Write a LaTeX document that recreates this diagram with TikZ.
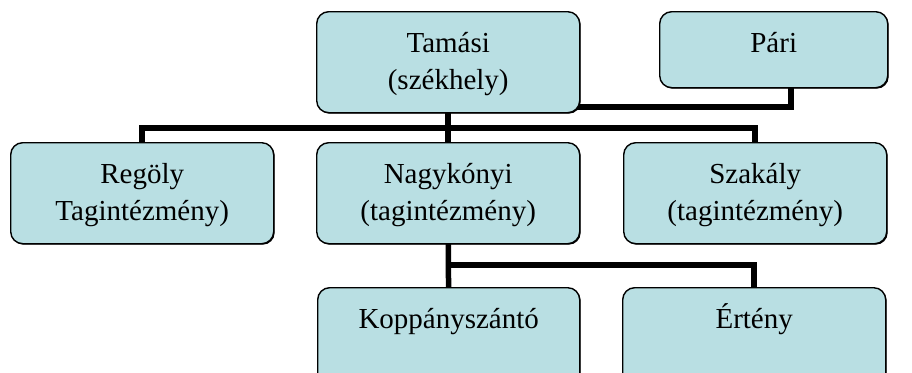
\documentclass[tikz,border=0pt]{standalone}
\usepackage{fontspec}
\setmainfont{Liberation Serif}
\usetikzlibrary{backgrounds,shadows}
\definecolor{boxfill}{RGB}{185,223,227}
\tikzset{
  orgbox/.style={draw=black, line width=1.4pt, fill=boxfill, rounded corners=12pt,
    inner sep=0pt, anchor=north west,
    drop shadow={shadow xshift=1pt, shadow yshift=-1pt, fill=black, opacity=1}},
  conn/.style={draw=black, line width=5.5pt, line join=miter}
}
\newcommand{\boxtxt}[3]{\parbox[c][#2][t]{#1}{\centering\fontsize{29}{37}\selectfont\vspace{15pt}#3}}
\begin{document}
\begin{tikzpicture}[x=1pt,y=-1pt]
\useasboundingbox (0,0) rectangle (912,372);
\clip (0,0) rectangle (912,372);
\node[orgbox] (tam) at (316,11) {\boxtxt{263pt}{101pt}{\strut Tamási\\\strut(székhely)}};
\node[orgbox] (pari) at (659,11) {\boxtxt{228pt}{76pt}{\strut Pári}};
\node[orgbox] (reg) at (10,142) {\boxtxt{263pt}{101pt}{\strut Regöly\\\strut Tagintézmény)}};
\node[orgbox] (nagy) at (316,142) {\boxtxt{263pt}{101pt}{\strut Nagykónyi\\\strut(tagintézmény)}};
\node[orgbox] (szak) at (623,142) {\boxtxt{263pt}{101pt}{\strut Szakály\\\strut(tagintézmény)}};
\node[orgbox] (kop) at (317,287) {\boxtxt{262pt}{101pt}{\strut Koppányszántó}};
\node[orgbox] (ert) at (622,287) {\boxtxt{263pt}{101pt}{\strut Értény}};
\coordinate (bus) at (448,128);
\coordinate (pj) at (791,107);
\coordinate (cb) at (448,265);
\begin{pgfonlayer}{background}
\draw[conn] (tam.center) -- (nagy.center);
\draw[conn] (reg.center) -- (reg.center |- bus) -- (szak.center |- bus) -- (szak.center);
\draw[conn] (pari.center -| pj) -- (pj) -- (tam.center |- pj);
\draw[conn] (nagy.center) -- (kop.center);
\draw[conn] (cb) -- (ert.center |- cb) -- (ert.center);
\end{pgfonlayer}
\end{tikzpicture}
\end{document}
